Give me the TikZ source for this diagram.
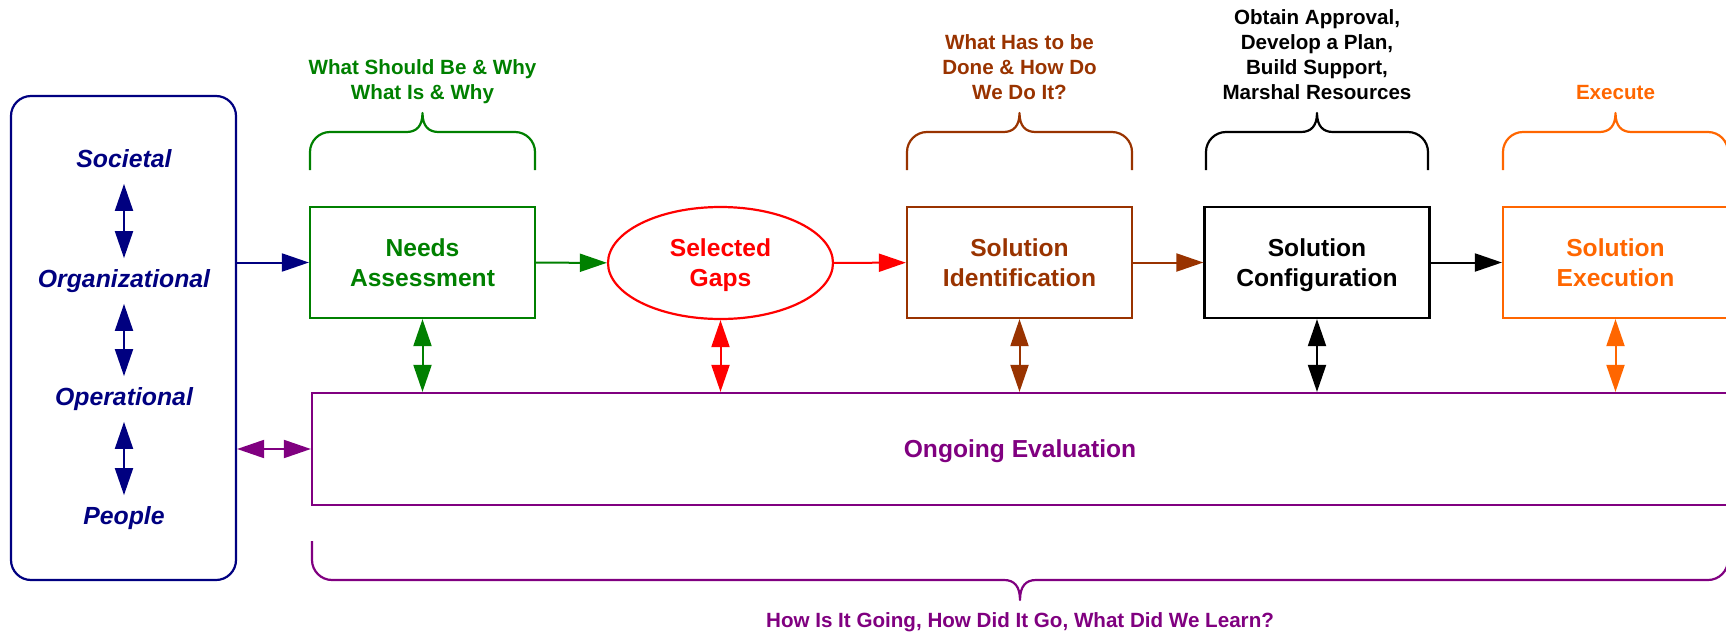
\documentclass[tikz,border=0pt]{standalone}
\usepackage{fontspec}
\setmainfont{Liberation Sans}
\usetikzlibrary{arrows.meta,shapes.geometric,calc}

\definecolor{cNavy}{RGB}{0,0,128}
\definecolor{cGreen}{RGB}{0,128,0}
\definecolor{cRed}{RGB}{255,0,0}
\definecolor{cBrown}{RGB}{153,51,0}
\definecolor{cOrange}{RGB}{255,102,0}
\definecolor{cPurple}{RGB}{128,0,128}

% Curly brace: #1 style, #2 left x, #3 right x, #4 leg-end y, #5 bar y, #6 tip y, #7 +1 opens down / -1 opens up
\newcommand\drawbrace[7]{%
  \draw[bracket,#1] (#2,#4) -- (#2,{#5+(#7)*20})
    .. controls (#2,{#5+(#7)*9}) and ({#2+9},#5) .. ({#2+20},#5)
    -- ({(#2+#3)/2-16},#5)
    .. controls ({(#2+#3)/2-6},#5) and ({(#2+#3)/2},{#5-(#7)*6}) .. ({(#2+#3)/2},#6)
    .. controls ({(#2+#3)/2},{#5-(#7)*6}) and ({(#2+#3)/2+6},#5) .. ({(#2+#3)/2+16},#5)
    -- ({#3-20},#5)
    .. controls ({#3-9},#5) and (#3,{#5+(#7)*9}) .. (#3,{#5+(#7)*20})
    -- (#3,#4);}

\begin{document}
\begin{tikzpicture}[x=0.5pt,y=-0.5pt,
  stage/.style={draw, line width=1.1pt, minimum width=112.5pt, minimum height=55.5pt,
    inner sep=0pt, align=center, text depth=0pt, font=\bfseries\fontsize{12.3}{15}\selectfont},
  level/.style={font=\bfseries\itshape\fontsize{12.4}{15}\selectfont, text=cNavy,
    text height=9pt, text depth=3pt, inner xsep=0pt, inner ysep=5.25pt},
  note/.style={align=center, inner sep=0pt, anchor=south,
    font=\bfseries\fontsize{10.3}{12.4}\selectfont},
  flow/.style={line width=1pt, -{Triangle[length=13.5pt,width=9pt]}},
  link/.style={line width=1pt, {Triangle[length=13.5pt,width=9pt]}-{Triangle[length=13.5pt,width=9pt]}},
  bracket/.style={line width=1.1pt, line join=round}
]
\useasboundingbox (0,0) rectangle (1726,632);
\clip (0,0) rectangle (1726,632);

% Levels of results
\node[draw=cNavy, line width=1.1pt, rounded corners=10pt, minimum width=112.5pt,
  minimum height=242pt, inner sep=0pt] (levels) at (123.5,338) {};
\node[level] (soc) at (124,161) {Societal};
\node[level] (org) at (124,281) {Organizational};
\node[level] (ope) at (124,399) {Operational};
\node[level] (peo) at (124,518) {People};
\draw[link, cNavy] (soc.south) -- (org.north);
\draw[link, cNavy] (org.south) -- (ope.north);
\draw[link, cNavy] (ope.south) -- (peo.north);

% Process stages
\node[stage, draw=cGreen, text=cGreen] (needs) at (422.5,262.5) {Needs\\Assessment};
\node[stage, ellipse, draw=cRed, text=cRed, minimum height=56pt] (gaps) at (720.5,263) {Selected\\Gaps};
\node[stage, draw=cBrown, text=cBrown] (ident) at (1019.5,262.5) {Solution\\Identification};
\node[stage, draw=black] (config) at (1317,262.5) {Solution\\Configuration};
\node[stage, draw=cOrange, text=cOrange] (exec) at (1615.5,262.5) {Solution\\Execution};
\node[stage, draw=cPurple, text=cPurple, minimum width=708pt, minimum height=56pt] (eval) at (1020,449) {Ongoing Evaluation};

% Flow between stages
\draw[flow, cNavy] (needs.west -| levels.east) -- (needs.west);
\draw[flow, cGreen] (needs) -- (gaps);
\draw[flow, cRed] (gaps) -- (ident);
\draw[flow, cBrown] (ident) -- (config);
\draw[flow, black] (config) -- (exec);

% Links to evaluation
\draw[link, cPurple] (eval.west -| levels.east) -- (eval.west);
\draw[link, cGreen] (needs) -- (needs |- eval.north);
\draw[link, cRed] (gaps) -- (gaps |- eval.north);
\draw[link, cBrown] (ident) -- (ident |- eval.north);
\draw[link, black] (config) -- (config |- eval.north);
\draw[link, cOrange] (exec) -- (exec |- eval.north);

% Braces and their notes
\drawbrace{cGreen}{310}{535}{170}{132}{113}{1}
\drawbrace{cBrown}{907}{1132}{170}{132}{113}{1}
\drawbrace{black}{1206}{1428}{170}{132}{113}{1}
\drawbrace{cOrange}{1503}{1728}{170}{132}{113}{1}
\drawbrace{cPurple}{312}{1728}{541}{580}{600}{-1}

\node[note, text=cGreen] (nlbl) at (422.5,107) {What Should Be \& Why\\What Is \& Why\strut};
\node[note, text=cBrown] (ilbl) at (1019.5,107) {What Has to be\\Done \& How Do\\We Do It?\strut};
\node[note, text=black] (clbl) at (1317,107) {Obtain Approval,\\Develop a Plan,\\Build Support,\\Marshal Resources\strut};
\node[note, text=cOrange] (xlbl) at (1615.5,107) {Execute\strut};
\node[note, anchor=base, text=cPurple] (elbl) at (1020,627) {How Is It Going, How Did It Go, What Did We Learn?};
\end{tikzpicture}
\end{document}
